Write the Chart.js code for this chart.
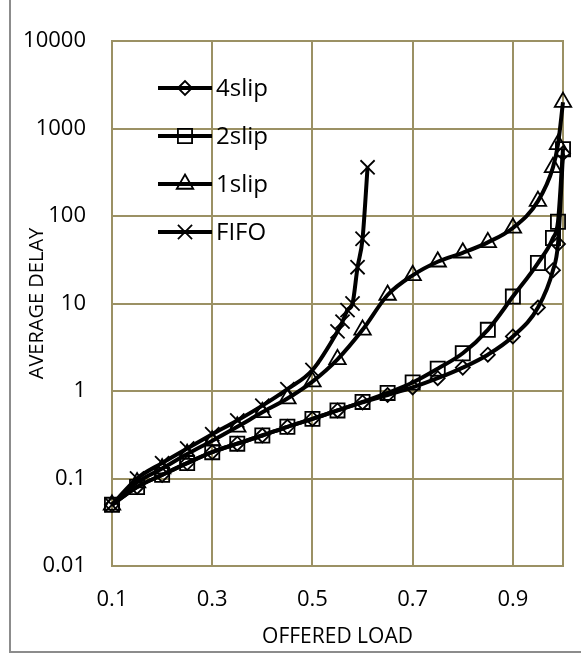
<!DOCTYPE html>
<html>
<head>
<meta charset="utf-8">
<script src="https://cdn.jsdelivr.net/npm/chart.js@4.4.1/dist/chart.umd.min.js"></script>
<style>
  html, body { margin: 0; padding: 0; background: #fff; }
  #wrap { position: relative; width: 581px; height: 658px; }
</style>
</head>
<body>
<div id="wrap"><canvas id="delayChart" width="581" height="658"></canvas></div>
<script>
// series
const seriesNames = ['4slip', '2slip', '1slip', 'FIFO'];
const slipLoad = [0.1, 0.15, 0.2, 0.25, 0.3, 0.35, 0.4, 0.45, 0.5, 0.55, 0.6, 0.65, 0.7, 0.75, 0.8, 0.85, 0.9, 0.95, 0.98, 0.99, 1.0];
const fifoLoad = [0.1, 0.15, 0.2, 0.25, 0.3, 0.35, 0.4, 0.45, 0.5, 0.55, 0.56, 0.57, 0.58, 0.59, 0.6, 0.61];
const slip4Delay = [0.05, 0.08, 0.11, 0.15, 0.2, 0.25, 0.31, 0.39, 0.48, 0.6, 0.74, 0.9, 1.1, 1.4, 1.85, 2.6, 4.2, 9, 24, 48, 520];
const slip2Delay = [0.05, 0.08, 0.11, 0.15, 0.2, 0.25, 0.31, 0.39, 0.48, 0.6, 0.75, 0.95, 1.25, 1.8, 2.7, 5, 12, 29, 56, 86, 580];
const slip1Delay = [0.05, 0.09, 0.13, 0.19, 0.27, 0.39, 0.57, 0.82, 1.28, 2.3, 5, 12.5, 21, 30, 38, 50, 73, 148, 360, 660, 2000];
const fifoDelay = [0.05, 0.1, 0.15, 0.22, 0.32, 0.46, 0.68, 1.05, 1.74, 4.8, 6.2, 8.4, 10, 26, 55, 360];

const xTickValues = [0.1, 0.3, 0.5, 0.7, 0.9];
const xTickLabels = ['0.1', '0.3', '0.5', '0.7', '0.9'];
const yTickValues = [0.01, 0.1, 1, 10, 100, 1000, 10000];
const yTickLabels = ['0.01', '0.1', '1', '10', '100', '1000', '10000'];

const gridColor = '#9b9164';
const fontFamily = '"Open Sans", sans-serif';

const toPoints = (xs, ys) => xs.map((x, i) => ({ x: x, y: ys[i] }));

function makeSeries(label, xs, ys, style, radius) {
    return {
        label: label,
        data: toPoints(xs, ys),
        borderColor: '#000',
        borderWidth: 4,
        cubicInterpolationMode: 'monotone',
        pointStyle: style,
        pointRadius: radius,
        pointHoverRadius: radius,
        pointBorderColor: '#000',
        pointBackgroundColor: 'rgba(0,0,0,0)',
        pointBorderWidth: 1.8,
        clip: false
    };
}

// outer frame + plot frame
const frames = {
    id: 'frames',
    beforeDraw(chart) {
        const ctx = chart.ctx;
        ctx.save();
        ctx.strokeStyle = '#8c8c8c';
        ctx.lineWidth = 2;
        ctx.beginPath();
        ctx.moveTo(10, 0);
        ctx.lineTo(10, 652);
        ctx.lineTo(581, 652);
        ctx.stroke();
        ctx.restore();
    },
    beforeDatasetsDraw(chart) {
        const { ctx, chartArea } = chart;
        ctx.save();
        ctx.strokeStyle = gridColor;
        ctx.lineWidth = 2;
        ctx.strokeRect(chartArea.left, chartArea.top, chartArea.right - chartArea.left, chartArea.bottom - chartArea.top);
        ctx.restore();
    }
};

// legend sits inside the plot, top-left
const insideLegend = {
    id: 'insideLegend',
    afterDatasetsDraw(chart) {
        const { ctx, chartArea } = chart;
        ctx.save();
        chart.data.datasets.forEach((ds, i) => {
            const y = chartArea.top + 47 + i * 48;
            const x0 = chartArea.left + 46;
            ctx.strokeStyle = '#000';
            ctx.lineWidth = 4;
            ctx.beginPath();
            ctx.moveTo(x0, y);
            ctx.lineTo(x0 + 54, y);
            ctx.stroke();
            ctx.lineWidth = 1.8;
            ctx.fillStyle = 'rgba(0,0,0,0)';
            Chart.helpers.drawPoint(ctx, { pointStyle: ds.pointStyle, radius: ds.pointRadius, borderWidth: 1.8, rotation: 0 }, x0 + 27, y);
            ctx.fillStyle = '#000';
            ctx.font = '24px ' + fontFamily;
            ctx.textBaseline = 'middle';
            ctx.textAlign = 'left';
            ctx.fillText(ds.label, x0 + 58, y + 1);
        });
        ctx.restore();
    }
};

new Chart(document.getElementById('delayChart'), {
    type: 'line',
    data: {
        datasets: [
            makeSeries(seriesNames[0], slipLoad, slip4Delay, 'rectRot', 7),
            makeSeries(seriesNames[1], slipLoad, slip2Delay, 'rect', 10),
            makeSeries(seriesNames[2], slipLoad, slip1Delay, 'triangle', 9.5),
            makeSeries(seriesNames[3], fifoLoad, fifoDelay, 'crossRot', 10)
        ]
    },
    options: {
        responsive: false,
        animation: false,
        devicePixelRatio: 1,
        layout: { padding: { top: 41, right: 18, bottom: 0, left: 0 } },
        plugins: {
            legend: { display: false },
            tooltip: { enabled: false }
        },
        scales: {
            x: {
                type: 'linear',
                min: 0.1,
                max: 1.0,
                afterBuildTicks: scale => { scale.ticks = xTickValues.map(v => ({ value: v })); },
                afterFit: scale => { scale.height = 92; },
                ticks: {
                    callback: (v, i) => xTickLabels[i],
                    color: '#000',
                    font: { family: fontFamily, size: 22 },
                    padding: 21,
                    maxRotation: 0
                },
                grid: { color: gridColor, lineWidth: 2, drawTicks: false },
                border: { color: gridColor, width: 2 },
                title: {
                    display: true,
                    text: 'OFFERED LOAD',
                    color: '#000',
                    font: { family: fontFamily, size: 21 },
                    padding: { top: 0, bottom: 8 }
                }
            },
            y: {
                type: 'logarithmic',
                min: 0.01,
                max: 10000,
                afterBuildTicks: scale => { scale.ticks = yTickValues.map(v => ({ value: v })); },
                afterFit: scale => { scale.width = 112; },
                ticks: {
                    callback: (v, i) => yTickLabels[i],
                    color: '#000',
                    font: { family: fontFamily, size: 22 },
                    padding: 26
                },
                grid: { color: gridColor, lineWidth: 2, drawTicks: false },
                border: { color: gridColor, width: 2 },
                title: {
                    display: true,
                    text: 'AVERAGE DELAY',
                    color: '#000',
                    font: { family: fontFamily, size: 20 },
                    padding: { top: 25, bottom: 0 }
                }
            }
        }
    },
    plugins: [frames, insideLegend]
});
</script>
</body>
</html>
